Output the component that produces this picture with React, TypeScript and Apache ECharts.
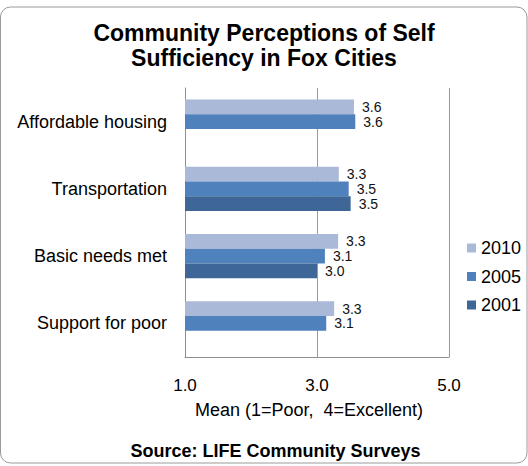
import React, { useEffect, useRef } from "react";
import * as echarts from "echarts";

const categories = ["Affordable housing", "Transportation", "Basic needs met", "Support for poor"];
const values2010 = [3.56, 3.33, 3.32, 3.26];
const values2005 = [3.58, 3.48, 3.12, 3.14];
const values2001 = [null, 3.51, 3.0, null];
const seriesNames = ["2010", "2005", "2001"];
const xTicks = { min: 1, max: 5, interval: 2 };
const titleText = "Community Perceptions of Self\nSufficiency in Fox Cities";
const axisNameText = "Mean (1=Poor,  4=Excellent)";
const sourceText = "Source: LIFE Community Surveys";

const colors = ["#AAB9D8", "#4F81BD", "#3E6797"];
const FONT = "Arial, 'Liberation Sans', sans-serif";

export default function App() {
  const ref = useRef<HTMLDivElement>(null);
  useEffect(() => {
    if (!ref.current) return;
    const chart = echarts.init(ref.current, undefined, { renderer: "svg" });
    const seriesData = [values2010, values2005, values2001];
    chart.setOption({
      animation: false,
      backgroundColor: "#ffffff",
      textStyle: { fontFamily: FONT },
      title: {
        text: titleText,
        left: "center",
        top: 15,
        textStyle: {
          fontFamily: FONT,
          fontSize: 23,
          fontWeight: "bold",
          color: "#000",
          lineHeight: 25.5,
        },
      },
      legend: {
        orient: "vertical",
        left: 462,
        top: 234,
        itemWidth: 9,
        itemHeight: 9,
        itemGap: 10.5,
        icon: "rect",
        data: seriesNames,
        textStyle: { fontFamily: FONT, fontSize: 18, color: "#000", lineHeight: 18, padding: [0, 0, 0, 0] },
      },
      grid: { left: 185, top: 88, width: 264, height: 269, containLabel: false },
      xAxis: {
        type: "value",
        min: xTicks.min,
        max: xTicks.max,
        interval: xTicks.interval,
        axisLine: { show: true, lineStyle: { color: "#8f8f8f", width: 1 } },
        axisTick: { show: false },
        splitLine: { show: true, lineStyle: { color: "#9a9a9a", width: 1 } },
        axisLabel: {
          fontFamily: FONT,
          fontSize: 17,
          color: "#000",
          margin: 20,
          formatter: (v: number) => v.toFixed(1),
        },
      },
      yAxis: {
        type: "category",
        data: categories,
        inverse: true,
        axisLine: { show: true, lineStyle: { color: "#8f8f8f", width: 1 } },
        axisTick: { show: false },
        axisLabel: { fontFamily: FONT, fontSize: 18, color: "#000", margin: 18 },
      },
      series: seriesNames.map((name, i) => ({
        name,
        type: "bar",
        data: seriesData[i],
        barGap: "0%",
        barCategoryGap: "34%",
        itemStyle: { color: colors[i] },
        label: {
          show: true,
          position: "right",
          distance: 8,
          fontFamily: FONT,
          fontSize: 14,
          lineHeight: 14,
          color: "#111",
          formatter: (p: any) => (p.value == null ? "" : Number(p.value).toFixed(1)),
        },
      })),
      graphic: [
        {
          type: "rect",
          shape: { x: 0.5, y: 7, width: 526.5, height: 456, r: 10 },
          style: { fill: "none", stroke: "#9a9a9a", lineWidth: 1 },
          silent: true,
          z: -1,
        },
        {
          type: "text",
          x: 309,
          y: 410,
          style: {
            text: axisNameText,
            fontFamily: FONT,
            fontSize: 18,
            fill: "#000",
            textAlign: "center",
            textVerticalAlign: "middle",
          },
        },
        {
          type: "text",
          x: 275.5,
          y: 451,
          style: {
            text: sourceText,
            fontFamily: FONT,
            fontSize: 18,
            fontWeight: "bold",
            fill: "#000",
            textAlign: "center",
            textVerticalAlign: "middle",
          },
        },
      ],
    });
    return () => chart.dispose();
  }, []);
  return (
    <div
      ref={ref}
      style={{ position: "fixed", left: 0, top: 0, width: 528, height: 466 }}
    />
  );
}
